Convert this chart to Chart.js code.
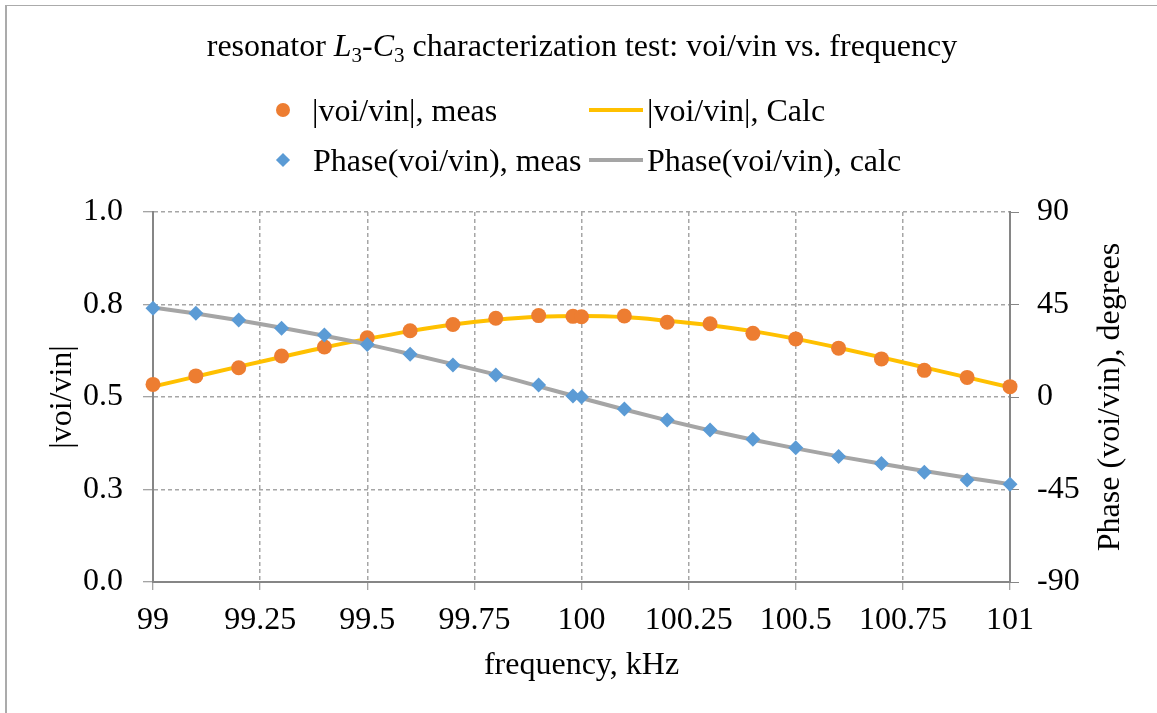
<!DOCTYPE html>
<html><head><meta charset="utf-8">
<script src="https://cdn.jsdelivr.net/npm/chart.js@4.4.0/dist/chart.umd.min.js"></script>
<style>
html,body{margin:0;padding:0;background:#fff;}
#wrap{position:relative;width:1157px;height:713px;overflow:hidden;font-family:'Liberation Serif','Times New Roman',serif;color:#000;}
#frame{position:absolute;left:5px;top:5px;width:1300px;height:900px;border-left:2px solid #ababab;border-top:1px solid #ababab;box-sizing:border-box;}
canvas{position:absolute;left:0;top:0;}
.t{position:absolute;white-space:nowrap;font-size:32px;line-height:40px;height:40px;}
.t sub{font-size:21px;line-height:0;vertical-align:-6px;}
.mk{position:absolute;}
</style></head>
<body>
<div id="wrap">
  <div id="frame"></div>
  <canvas id="c" width="1157" height="713"></canvas>
  <div class="t" style="left:0;width:1164px;text-align:center;top:25px;">resonator <i>L</i><sub>3</sub>-<i>C</i><sub>3</sub> characterization test: voi/vin vs. frequency</div>
  <div class="mk" style="left:276px;top:103px;width:14px;height:14px;border-radius:50%;background:#ED7D31;"></div>
  <div class="t" style="left:312px;top:90px;">|voi/vin|, meas</div>
  <div class="mk" style="left:589px;top:108px;width:54px;height:4px;background:#FFC000;"></div>
  <div class="t" style="left:647px;top:90px;">|voi/vin|, Calc</div>
  <div class="mk" style="left:278px;top:155px;width:10px;height:10px;background:#5B9BD5;transform:rotate(45deg);"></div>
  <div class="t" style="left:313px;top:140px;">Phase(voi/vin), meas</div>
  <div class="mk" style="left:589px;top:158px;width:54px;height:4px;background:#A5A5A5;"></div>
  <div class="t" style="left:647px;top:140px;">Phase(voi/vin), calc</div>
  <div class="t" style="left:908px;top:377px;width:400px;text-align:center;transform:rotate(-90deg);transform-origin:200px 20px;">Phase (voi/vin), degrees</div>
</div>
<script>
const freqMeas = [99, 99.1, 99.2, 99.3, 99.4, 99.5, 99.6, 99.7, 99.8, 99.9, 99.98, 100, 100.1, 100.2, 100.3, 100.4, 100.5, 100.6, 100.7, 100.8, 100.9, 101];
const magMeas = [0.534, 0.557, 0.579, 0.611, 0.635, 0.660, 0.679, 0.696, 0.713, 0.720, 0.718, 0.717, 0.719, 0.702, 0.698, 0.672, 0.657, 0.632, 0.603, 0.572, 0.553, 0.528];
const phaseMeas = [43.2, 40.7, 37.5, 33.4, 30.2, 25.6, 20.8, 15.6, 10.7, 5.8, 0.5, 0.0, -5.8, -11.2, -16.1, -20.6, -24.7, -29.0, -32.3, -36.6, -40.4, -42.5];
const freqCalc = [99, 99.1, 99.2, 99.3, 99.4, 99.5, 99.6, 99.7, 99.8, 99.9, 100, 100.1, 100.2, 100.3, 100.4, 100.5, 100.6, 100.7, 100.8, 100.9, 101];
const magCalc = [0.528, 0.555, 0.582, 0.608, 0.634, 0.657, 0.678, 0.696, 0.709, 0.717, 0.719, 0.716, 0.706, 0.694, 0.678, 0.657, 0.633, 0.607, 0.580, 0.553, 0.526];
const phaseCalc = [43.6, 40.6, 37.3, 33.7, 29.8, 25.6, 20.9, 16.0, 10.9, 5.2, -0.5, -6.1, -11.4, -16.3, -20.8, -25.0, -28.9, -32.5, -36.0, -39.3, -42.4];
const xTickLabels = ['99', '99.25', '99.5', '99.75', '100', '100.25', '100.5', '100.75', '101'];
const leftTickLabels = ['0.0', '0.3', '0.5', '0.8', '1.0'];
const rightTickLabels = ['-90', '-45', '0', '45', '90'];

const F = "'Liberation Serif', 'Times New Roman', serif";
const pts = (xs, ys) => xs.map((x, i) => ({x: x, y: ys[i]}));
const gridC = '#a6a6a6', axisC = '#868686';

new Chart(document.getElementById('c'), {
  type: 'line',
  data: {
    datasets: [
      {label: 'Phase(voi/vin), meas', data: pts(freqMeas, phaseMeas), yAxisID: 'y2', showLine: false,
       pointStyle: 'rectRot', pointRadius: 7.5, pointBackgroundColor: '#5B9BD5', pointBorderColor: '#5B9BD5', pointBorderWidth: 0, clip: false},
      {label: 'Phase(voi/vin), calc', data: pts(freqCalc, phaseCalc), yAxisID: 'y2', borderColor: '#A5A5A5', borderWidth: 4,
       pointRadius: 0, cubicInterpolationMode: 'monotone', fill: false},
      {label: '|voi/vin|, meas', data: pts(freqMeas, magMeas), yAxisID: 'y', showLine: false,
       pointStyle: 'circle', pointRadius: 7.5, pointBackgroundColor: '#ED7D31', pointBorderColor: '#ED7D31', pointBorderWidth: 0, clip: false},
      {label: '|voi/vin|, Calc', data: pts(freqCalc, magCalc), yAxisID: 'y', borderColor: '#FFC000', borderWidth: 4,
       pointRadius: 0, cubicInterpolationMode: 'monotone', fill: false}
    ]
  },
  options: {
    responsive: false, animation: false, devicePixelRatio: 1,
    layout: {padding: {top: 212, left: 0, right: 0, bottom: 0}},
    plugins: {legend: {display: false}, tooltip: {enabled: false}, title: {display: false}},
    scales: {
      x: {
        type: 'linear', min: 99, max: 101,
        afterFit: s => { s.height = 131; },
        ticks: {stepSize: 0.25, autoSkip: false, maxRotation: 0, padding: 11, color: '#000',
                font: {family: F, size: 32}, callback: (v, i) => xTickLabels[i]},
        grid: {color: gridC, lineWidth: 1.5, tickLength: 8, tickColor: axisC, tickWidth: 1, tickBorderDash: []},
        border: {display: true, color: axisC, width: 2, dash: [4, 3]},
        title: {display: true, text: 'frequency, kHz', color: '#000', font: {family: F, size: 32}, padding: {top: 4, bottom: 28}}
      },
      y: {
        type: 'linear', position: 'left', min: 0, max: 1,
        afterFit: s => { s.width = 153; },
        ticks: {stepSize: 0.25, padding: 20, color: '#000', font: {family: F, size: 32}, callback: (v, i) => leftTickLabels[i]},
        grid: {color: gridC, lineWidth: 1.5, tickLength: 10, tickColor: axisC, tickWidth: 1, tickBorderDash: []},
        border: {display: true, color: axisC, width: 2, dash: [4, 3]},
        title: {display: true, text: '|voi/vin|', color: '#000', font: {family: F, size: 32}, padding: {top: 43, bottom: 4}}
      },
      y2: {
        type: 'linear', position: 'right', min: -90, max: 90,
        afterFit: s => { s.width = 147; },
        ticks: {stepSize: 45, padding: 18, color: '#000', font: {family: F, size: 32}, callback: (v, i) => rightTickLabels[i]},
        grid: {drawOnChartArea: false, tickLength: 9, color: axisC, tickColor: axisC, tickWidth: 1, tickBorderDash: []},
        border: {display: true, color: axisC, width: 2}
      }
    }
  }
});
</script>
</body></html>
